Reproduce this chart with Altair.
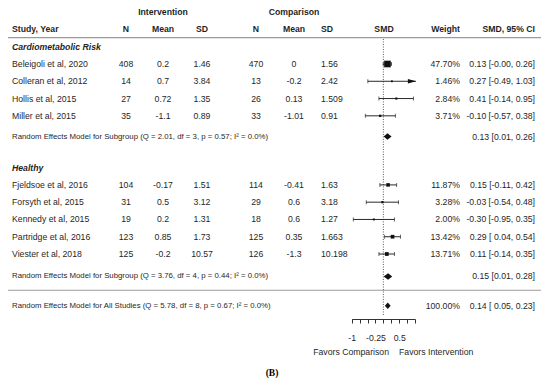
import altair as alt
import pandas as pd

# ---------------- data ----------------
studies = ["Beleigoli et al, 2020", "Colleran et al, 2012", "Hollis et al, 2015", "Miller et al, 2015",
           "Fjeldsoe et al, 2016", "Forsyth et al, 2015", "Kennedy et al, 2015", "Partridge et al, 2016",
           "Viester et al, 2018"]
groups = ["Cardiometabolic Risk"] * 4 + ["Healthy"] * 5
int_n = ["408", "14", "27", "35", "104", "31", "19", "123", "125"]
int_mean = ["0.2", "0.7", "0.72", "-1.1", "-0.17", "0.5", "0.2", "0.85", "-0.2"]
int_sd = ["1.46", "3.84", "1.35", "0.89", "1.51", "3.12", "1.31", "1.73", "10.57"]
comp_n = ["470", "13", "26", "33", "114", "29", "18", "125", "126"]
comp_mean = ["0", "-0.2", "0.13", "-1.01", "-0.41", "0.6", "0.6", "0.35", "-1.3"]
comp_sd = ["1.56", "2.42", "1.509", "0.91", "1.63", "3.18", "1.27", "1.663", "10.198"]
smd = [0.13, 0.27, 0.41, -0.10, 0.15, -0.03, -0.30, 0.29, 0.11]
ci_lo = [-0.004, -0.49, -0.14, -0.57, -0.11, -0.54, -0.95, 0.04, -0.14]
ci_hi = [0.26, 1.03, 0.95, 0.38, 0.42, 0.48, 0.35, 0.54, 0.35]
weight = [47.70, 1.46, 2.84, 3.71, 11.87, 3.28, 2.00, 13.42, 13.71]
ci_text = ["0.13 [-0.00, 0.26]", "0.27 [-0.49, 1.03]", "0.41 [-0.14, 0.95]", "-0.10 [-0.57, 0.38]",
           "0.15 [-0.11, 0.42]", "-0.03 [-0.54, 0.48]", "-0.30 [-0.95, 0.35]", "0.29 [ 0.04, 0.54]",
           "0.11 [-0.14, 0.35]"]

sum_labels = ["Random Effects Model for Subgroup (Q = 2.01, df = 3, p = 0.57; I² = 0.0%)",
              "Random Effects Model for Subgroup (Q = 3.76, df = 4, p = 0.44; I² = 0.0%)",
              "Random Effects Model for All Studies (Q = 5.78, df = 8, p = 0.67; I² = 0.0%)"]
sum_est = [0.13, 0.15, 0.14]
sum_lo = [0.01, 0.01, 0.05]
sum_hi = [0.26, 0.28, 0.23]
sum_weight = ["", "", "100.00%"]
sum_ci = ["0.13 [0.01, 0.26]", "0.15 [0.01, 0.28]", "0.14 [ 0.05, 0.23]"]

axis_ticks = [-1, -0.75, -0.5, -0.25, 0, 0.25, 0.5, 0.75, 1]
axis_labels = [-1, -0.25, 0.5]

# ---------------- layout (row positions) ----------------
group_names = ["Cardiometabolic Risk", "Healthy"]
group_rows = [-1, 6]
study_rows = [0, 1, 2, 3, 7, 8, 9, 10, 11]
sum_rows = [4.2, 12.3, 14.0]

df = pd.DataFrame(dict(study=studies, group=groups, row=study_rows, i_n=int_n, i_m=int_mean, i_sd=int_sd,
                       c_n=comp_n, c_m=comp_mean, c_sd=comp_sd, smd=smd, lo=ci_lo, hi=ci_hi, w=weight,
                       ci=ci_text))
df["wlab"] = [f"{w:.2f}%" for w in weight]

sdf = pd.DataFrame(dict(label=sum_labels, row=sum_rows, est=sum_est, lo=sum_lo, hi=sum_hi,
                        wlab=sum_weight, ci=sum_ci))

# diamond polygons built from summary estimates
half = 0.19
dia = []
for i, r in sdf.iterrows():
    dia.append(dict(k=i, x=r.lo, yt=r.row, yb=r.row))
    dia.append(dict(k=i, x=r.est, yt=r.row - half, yb=r.row + half))
    dia.append(dict(k=i, x=r.hi, yt=r.row, yb=r.row))
ddf = pd.DataFrame(dia)

gdf = pd.DataFrame(dict(name=group_names, row=group_rows))

# ---------------- styles ----------------
FONT = "Liberation Sans"
FS = 8.7
FS_SMALL = 7.8
TXT = "#1f1f1f"
INK = "#111111"

W, H = 534, 370
ys = alt.Scale(domain=[0, 11], range=[56, 246], nice=False, zero=False)
xs = alt.Scale(domain=[-1, 1], range=[343.7, 407], nice=False, zero=False)
lab_cond = " || ".join(f"datum.value == {v}" for v in axis_labels)
xa = alt.Axis(orient="bottom", offset=-59, values=axis_ticks, grid=False, title=None,
              domainColor="#333", tickColor="#333", tickSize=4, domainWidth=1, tickWidth=1,
              labelExpr=f"({lab_cond}) ? toString(datum.value) : ''",
              labelFont=FONT, labelFontSize=FS, labelColor=TXT, labelPadding=10,
              labelFlush=False, labelOverlap=False)


def X(field):
    return alt.X(field, scale=xs, axis=xa)


def Y(field):
    return alt.Y(field, scale=ys, axis=None)


def col(data, field, x, align="center", size=FS, **kw):
    return alt.Chart(data).mark_text(align=align, baseline="middle", font=FONT, fontSize=size,
                                     color=TXT, **kw).encode(
        x=alt.value(x), y=Y("row:Q"), text=f"{field}:N")


def head(text, x, row, align="center", **kw):
    return alt.Chart(pd.DataFrame({"t": [text]})).mark_text(
        align=align, baseline="middle", font=FONT, fontSize=FS, fontWeight="bold", color=TXT, **kw
    ).encode(x=alt.value(x), y=alt.Y(datum=row, scale=ys, axis=None), text="t:N")


one = pd.DataFrame({"a": [0]})

layers = []
# horizontal separator lines
for r in [-1.53, 13.1]:
    layers.append(alt.Chart(one).mark_rule(color="#9a9a9a", strokeWidth=1.2).encode(
        x=alt.value(-2), x2=alt.value(533), y=alt.Y(datum=r, scale=ys, axis=None)))

# zero reference line (dotted)
layers.append(alt.Chart(one).mark_rule(color="#555", strokeWidth=1, strokeDash=[1, 1.5]).encode(
    x=alt.X(datum=0, scale=xs, axis=xa),
    y=alt.Y(datum=-1.45, scale=ys, axis=None), y2=alt.Y2(datum=14.6)))

# headers
layers += [
    head("Intervention", 155, -3), head("Comparison", 286, -3),
    head("Study, Year", 4, -2, align="left"), head("N", 118, -2), head("Mean", 155, -2),
    head("SD", 194, -2), head("N", 248, -2), head("Mean", 286, -2), head("SD", 319, -2),
    head("SMD", 376, -2), head("Weight", 452, -2, align="right"), head("SMD, 95% CI", 527, -2, align="right"),
]

# group titles
layers.append(alt.Chart(gdf).mark_text(align="left", baseline="middle", font=FONT, fontSize=FS,
                                       fontWeight="bold", fontStyle="italic", color=TXT).encode(
    x=alt.value(4), y=Y("row:Q"), text="name:N"))

# study table columns
layers += [
    col(df, "study", 4, align="left"), col(df, "i_n", 118), col(df, "i_m", 155), col(df, "i_sd", 194),
    col(df, "c_n", 248), col(df, "c_m", 286), col(df, "c_sd", 313, align="left"),
    col(df, "wlab", 452, align="right"), col(df, "ci", 527, align="right"),
]

# summary rows text
layers += [
    col(sdf, "label", 4, align="left", size=FS_SMALL),
    col(sdf, "wlab", 452, align="right"), col(sdf, "ci", 527, align="right"),
]

# CI lines
layers.append(alt.Chart(df).mark_rule(color=INK, strokeWidth=0.9).encode(
    x=X("lo:Q"), x2="hi:Q", y=Y("row:Q")))
# caps
layers.append(alt.Chart(df).mark_tick(orient="vertical", color=INK, size=4, thickness=0.9).encode(
    x=X("lo:Q"), y=Y("row:Q")))
layers.append(alt.Chart(df).transform_filter("datum.hi <= 1").mark_tick(
    orient="vertical", color=INK, size=4, thickness=0.9).encode(x=X("hi:Q"), y=Y("row:Q")))
# arrows for CIs beyond axis
layers.append(alt.Chart(df).transform_filter("datum.hi > 1").mark_point(
    shape="M0,0L-1,-0.28L-1,0.28Z", filled=True, opacity=1, color=INK, size=260, strokeWidth=0).encode(
    x=X("hi:Q"), y=Y("row:Q")))
# squares
layers.append(alt.Chart(df).mark_square(filled=True, opacity=1, color=INK).encode(
    x=X("smd:Q"), y=Y("row:Q"),
    size=alt.Size("w:Q", scale=alt.Scale(domain=[0, 50], range=[2, 46]), legend=None)))
# diamonds
layers.append(alt.Chart(ddf).mark_area(orient="vertical", color=INK, opacity=1).encode(
    x=X("x:Q"), y=Y("yt:Q"), y2="yb:Q", detail="k:N"))

# favour labels and panel tag
layers.append(alt.Chart(pd.DataFrame({"t": ["Favors Comparison"]})).mark_text(
    align="right", baseline="middle", font=FONT, fontSize=FS, color=TXT).encode(
    x=alt.value(381), y=alt.Y(datum=16.7, scale=ys, axis=None), text="t:N"))
layers.append(alt.Chart(pd.DataFrame({"t": ["Favors Intervention"]})).mark_text(
    align="left", baseline="middle", font=FONT, fontSize=FS, color=TXT).encode(
    x=alt.value(391), y=alt.Y(datum=16.7, scale=ys, axis=None), text="t:N"))
layers.append(alt.Chart(pd.DataFrame({"t": ["(B)"]})).mark_text(
    align="center", baseline="middle", font="Liberation Serif", fontSize=9.5, fontWeight="bold",
    color="#000").encode(
    x=alt.value(264), y=alt.Y(datum=17.9, scale=ys, axis=None), text="t:N"))

chart = alt.layer(*layers).properties(
    width=W, height=H, padding=0, autosize=alt.AutoSizeParams(type="none"),
    background="white"
).configure_view(stroke=None)

chart.save("out.html", embed_options={"renderer": "svg", "actions": False})
